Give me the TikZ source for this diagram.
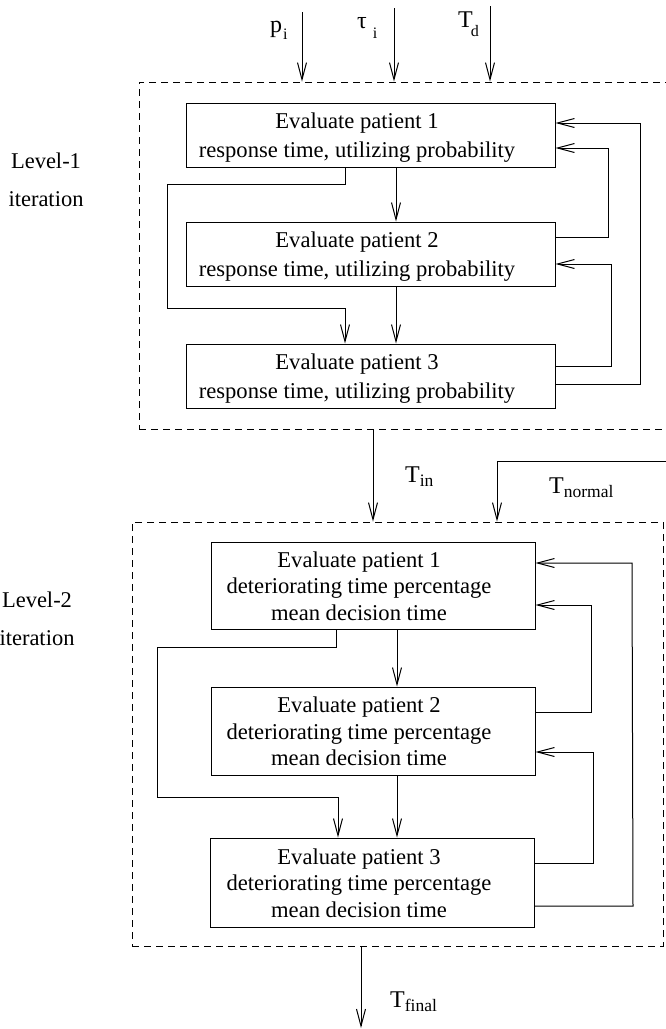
\documentclass[tikz,border=0pt]{standalone}
\usepackage{fontspec}
\setmainfont{Liberation Serif}
\usetikzlibrary{arrows.meta}
\newcommand\lowsub[3]{\raisebox{-#1pt}{\fontsize{#2}{#2}\selectfont #3}}
\begin{document}
\begin{tikzpicture}[x=1pt,y=-1pt,
  stagebox/.style={draw, line width=1pt, inner sep=0pt},
  dbox/.style={draw, dash pattern=on 7pt off 5pt, line width=0.9pt, inner sep=0pt},
  txtA/.style={font=\fontsize{22.6}{29}\selectfont, align=center, inner sep=0pt},
  txtB/.style={font=\fontsize{22.6}{26.5}\selectfont, align=center, inner sep=0pt},
  lvl/.style={font=\fontsize{22.5}{38}\selectfont, align=center, inner sep=0pt},
  sym/.style={font=\fontsize{24}{24}\selectfont, inner sep=0pt, anchor=base west},
  ln/.style={line width=1pt},
  arr/.style={line width=1pt, -{Straight Barb[length=17pt,width=9pt]}}]
\useasboundingbox (0,0) rectangle (666,1029);
\clip (0,0) rectangle (666,1029);

% dashed frames
\node[dbox, minimum width=531pt, minimum height=347pt] (L1) at (404.5,255.5) {};
\node[dbox, minimum width=531pt, minimum height=424pt] (L2) at (397.5,734) {};

% level labels
\node[lvl] (lv1) at (46,179.4) {Level-1\\iteration};
\node[lvl] (lv2) at (37,618.4) {Level-2\\iteration};

% level-1 boxes
\node[stagebox, minimum width=369pt, minimum height=64pt] (a1) at (370.5,135) {};
\node[stagebox, minimum width=369pt, minimum height=64pt] (a2) at (370.5,254) {};
\node[stagebox, minimum width=369pt, minimum height=64pt] (a3) at (370.5,376) {};
\node[txtA] (a1t) at (357,137.5) {Evaluate patient 1\\response time, utilizing probability};
\node[txtA] (a2t) at (357,256.5) {Evaluate patient 2\\response time, utilizing probability};
\node[txtA] (a3t) at (357,378.5) {Evaluate patient 3\\response time, utilizing probability};

% level-2 boxes
\node[stagebox, minimum width=324pt, minimum height=87pt] (b1) at (373,585.5) {};
\node[stagebox, minimum width=324pt, minimum height=88pt] (b2) at (373,731) {};
\node[stagebox, minimum width=324pt, minimum height=89pt] (b3) at (372,882.5) {};
\node[txtB] (b1t) at (359,586) {Evaluate patient 1\\deteriorating time percentage\\mean decision time};
\node[txtB] (b2t) at (359,731.5) {Evaluate patient 2\\deteriorating time percentage\\mean decision time};
\node[txtB] (b3t) at (359,883) {Evaluate patient 3\\deteriorating time percentage\\mean decision time};

% input labels
\node[sym] (pl) at (270,32) {p\hspace{1pt}\lowsub{7}{16}{i}};
\node[sym] (tl) at (357,28) {τ\hspace{6pt}\lowsub{10}{16}{i}};
\node[sym] (dl) at (458,27) {T\kern-2pt\lowsub{9}{16}{d}};
\node[sym] (inl) at (405,482) {T\lowsub{4}{17.5}{in}};
\node[sym] (nl) at (549,493) {T\lowsub{4}{17.5}{normal}};
\node[sym] (fl) at (390,1007) {T\lowsub{4}{17.5}{final}};

% free ends
\coordinate (pin) at (302,12);
\coordinate (tin) at (394,8);
\coordinate (din) at (490,6);
\coordinate (nin) at (670,461);
\coordinate (fout) at (361,1028);

% inputs
\draw[arr] (pin) -- (pin |- L1.north);
\draw[arr] (tin) -- (tin |- L1.north);
\draw[arr] (din) -- (din |- L1.north);

% level-1 vertical flow
\draw[arr] (a1.south -| 396,0) -- (a2.north -| 396,0);
\draw[arr] (a2.south -| 396,0) -- (a3.north -| 396,0);
\draw[arr] (a1.south -| 345,0) -- (345,184) -- (167,184) -- (167,308) -- (345,308) -- (a3.north -| 345,0);

% level-1 feedback
\draw[arr] (a3.east |- 0,384) -- (640,384) -- (640,123) -- (a1.east |- 0,123);
\draw[arr] (a2.east |- 0,237) -- (608,237) -- (608,148) -- (a1.east |- 0,148);
\draw[arr] (a3.east |- 0,366) -- (611,366) -- (611,264) -- (a2.east |- 0,264);

% between levels
\draw[arr] (L1.south -| 373,0) -- (L2.north -| 373,0);
\draw[arr] (nin) -- (497,461) -- (L2.north -| 497,0);

% level-2 vertical flow
\draw[arr] (b1.south -| 397,0) -- (b2.north -| 397,0);
\draw[arr] (b2.south -| 397,0) -- (b3.north -| 397,0);
\draw[arr] (b1.south -| 336,0) -- (336,647) -- (157,647) -- (157,797) -- (338,797) -- (b3.north -| 338,0);

% level-2 feedback
\draw[arr] (b3.east |- 0,906) -- (633,906) -- (632,563) -- (b1.east |- 0,563);
\draw[arr] (b2.east |- 0,712) -- (591,712) -- (591,605) -- (b1.east |- 0,605);
\draw[arr] (b3.east |- 0,863) -- (593,863) -- (593,752) -- (b2.east |- 0,752);

% output
\draw[arr] (L2.south -| fout) -- (fout);
\end{tikzpicture}
\end{document}
